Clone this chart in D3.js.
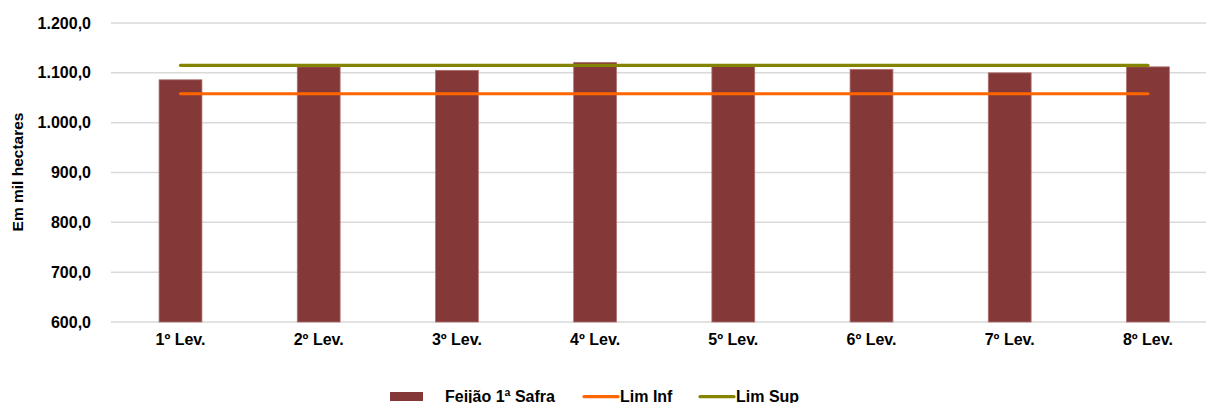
<!DOCTYPE html>
<html><head><meta charset="utf-8">
<script src="https://cdn.jsdelivr.net/npm/d3@7/dist/d3.min.js"></script>
<style>body{margin:0;background:#fff}svg{display:block}text{font-family:"Liberation Sans",Arial,sans-serif;font-weight:bold;fill:#000}</style>
</head><body>
<script>
const categories = ["1º Lev.","2º Lev.","3º Lev.","4º Lev.","5º Lev.","6º Lev.","7º Lev.","8º Lev."];
const feijao = [1086, 1112, 1105, 1121, 1113, 1107, 1100, 1112];
const limInf = [1058, 1058, 1058, 1058, 1058, 1058, 1058, 1058];
const limSup = [1115, 1115, 1115, 1115, 1115, 1115, 1115, 1115];
const yTicks = [600, 700, 800, 900, 1000, 1100, 1200];

const W = 1206, H = 403;
const svg = d3.select("body").append("svg").attr("width", W).attr("height", H);

const x = d3.scaleBand().domain(categories).range([111.4, 1217]).paddingInner(0.69).paddingOuter(0.345);
const y = d3.scaleLinear().domain([600, 1200]).range([322, 23]);
const fmt = v => d3.format(",.1f")(v).replace(/,/g, "#").replace(".", ",").replace(/#/g, ".");

// gridlines
svg.append("g").selectAll("line").data(yTicks).join("line")
  .attr("x1", 111).attr("x2", W).attr("y1", d => y(d)).attr("y2", d => y(d))
  .attr("stroke", "#d9d9d9").attr("stroke-width", 1.5);

// y axis labels
const yAxis = d3.axisLeft(y).tickValues(yTicks).tickFormat(fmt).tickSize(0).tickPadding(0);
const gy = svg.append("g").attr("transform", "translate(91,0)").call(yAxis);
gy.select(".domain").remove();
gy.selectAll("text").attr("font-size", 16).attr("font-family", "Liberation Sans, Arial, sans-serif").attr("font-weight", "bold").attr("fill", "#000");

// bars
svg.append("g").selectAll("rect").data(feijao).join("rect")
  .attr("x", (d, i) => x(categories[i]))
  .attr("width", x.bandwidth())
  .attr("y", d => y(d))
  .attr("height", d => y(600) - y(d))
  .attr("fill", "#843838")
  .attr("stroke", "#b07070").attr("stroke-width", 0.8);

// x axis labels
const xAxis = d3.axisBottom(x).tickSize(0).tickPadding(0);
const gx = svg.append("g").attr("transform", "translate(0,334)").call(xAxis);
gx.select(".domain").remove();
gx.selectAll("text").attr("font-size", 16).attr("font-family", "Liberation Sans, Arial, sans-serif").attr("font-weight", "bold").attr("fill", "#000").attr("dy", "0.71em");

// lines
const line = d3.line().x((d, i) => x(categories[i]) + x.bandwidth() / 2).y(d => y(d));
svg.append("path").datum(limInf).attr("d", line).attr("fill", "none").attr("stroke", "#ff6600").attr("stroke-width", 3.2).attr("stroke-linecap", "round");
svg.append("path").datum(limSup).attr("d", line).attr("fill", "none").attr("stroke", "#848400").attr("stroke-width", 3.2).attr("stroke-linecap", "round");

// y title
svg.append("text").attr("transform", "translate(23,172) rotate(-90)").attr("text-anchor", "middle")
  .attr("font-size", 15.5).text("Em mil hectares");

// legend
const lg = svg.append("g");
lg.append("rect").attr("x", 390).attr("y", 392).attr("width", 33).attr("height", 9).attr("fill", "#843838");
lg.append("text").attr("x", 445).attr("y", 402).attr("font-size", 16).text("Feijão 1ª Safra");
lg.append("line").attr("x1", 584).attr("x2", 618).attr("y1", 396.7).attr("y2", 396.7).attr("stroke", "#ff6600").attr("stroke-width", 3.2).attr("stroke-linecap", "round");
lg.append("text").attr("x", 620).attr("y", 402).attr("font-size", 16).text("Lim Inf");
lg.append("line").attr("x1", 700).attr("x2", 734).attr("y1", 396.7).attr("y2", 396.7).attr("stroke", "#848400").attr("stroke-width", 3.2).attr("stroke-linecap", "round");
lg.append("text").attr("x", 736).attr("y", 402).attr("font-size", 16).text("Lim Sup");
</script>
</body></html>
